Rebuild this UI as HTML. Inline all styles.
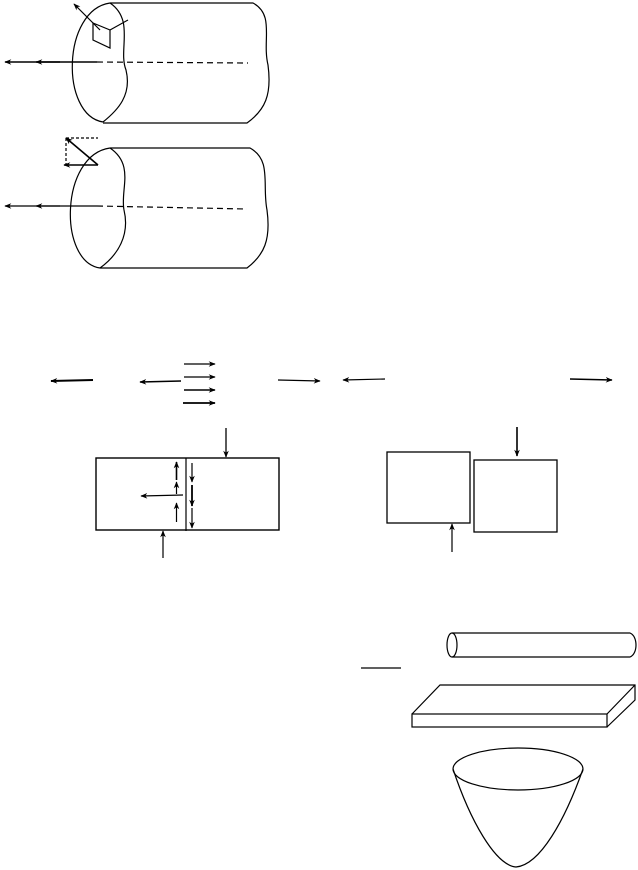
<!DOCTYPE html>
<html><head><meta charset="utf-8"><style>html,body{margin:0;padding:0;background:#fff}svg{display:block}</style></head>
<body>
<svg width="638" height="870" viewBox="0 0 638 870" xmlns="http://www.w3.org/2000/svg" fill="none" stroke="#000" stroke-width="1.2">
<defs>
<marker id="a" viewBox="0 0 10 10" refX="9" refY="5" markerWidth="7" markerHeight="7" orient="auto" markerUnits="userSpaceOnUse"><path d="M0,1 L10,5 L0,9 L3,5 Z" fill="#000" stroke="none"/></marker>
</defs>
<!-- cylinder 1 -->
<path d="M110,3 C62,10 60,115 103,122"/>
<path d="M110,3 C135,20 118,50 126,70 C132,95 118,110 103,122"/>
<path d="M110,3 L253,3 C275,15 262,40 268,65 C272,95 265,110 247,123 L103,123"/>
<path d="M93,23 L110,30 L110,48 L93,40 Z"/>
<line x1="110" y1="30" x2="128" y2="20"/>
<line x1="100" y1="30" x2="74" y2="4" marker-end="url(#a)"/>
<line x1="97" y1="62" x2="5" y2="62" stroke-width="1.5" marker-end="url(#a)"/>
<line x1="60" y1="62" x2="36" y2="62" stroke-width="1.5" marker-end="url(#a)"/>
<line x1="97" y1="62" x2="248" y2="63" stroke-dasharray="6,4"/>
<!-- cylinder 2 -->
<path d="M110,148 C60,155 58,262 100,268"/>
<path d="M110,148 C135,165 120,190 124,210 C130,235 118,255 100,268"/>
<path d="M110,148 L250,148 C272,160 262,185 267,210 C271,240 264,255 247,268 L100,268"/>
<path d="M66,138 L98,138 M66,138 L66,165" stroke-dasharray="3,2"/>
<line x1="98" y1="165" x2="66" y2="138" stroke-width="1.6" marker-end="url(#a)"/>
<line x1="98" y1="165" x2="64" y2="165" stroke-width="1.6" marker-end="url(#a)"/>
<line x1="97" y1="206" x2="5" y2="206" stroke-width="1.3" marker-end="url(#a)"/>
<line x1="60" y1="206" x2="36" y2="206" stroke-width="1.3" marker-end="url(#a)"/>
<line x1="97" y1="206" x2="247" y2="209" stroke-dasharray="6,4"/>
<!-- middle arrows -->
<line x1="93" y1="380" x2="51" y2="381" stroke-width="2" marker-end="url(#a)"/>
<line x1="181" y1="381" x2="140" y2="382" stroke-width="1.6" marker-end="url(#a)"/>
<line x1="184" y1="364" x2="215" y2="364" marker-end="url(#a)"/>
<line x1="184" y1="377" x2="215" y2="377" marker-end="url(#a)"/>
<line x1="184" y1="390" x2="215" y2="390" stroke-width="1.6" marker-end="url(#a)"/>
<line x1="183" y1="403" x2="215" y2="403" stroke-width="1.8" marker-end="url(#a)"/>
<line x1="278" y1="380" x2="320" y2="381" marker-end="url(#a)"/>
<line x1="385" y1="379" x2="343" y2="380" marker-end="url(#a)"/>
<line x1="570" y1="379" x2="612" y2="380" stroke-width="1.6" marker-end="url(#a)"/>
<!-- left rectangle -->
<rect x="96" y="458" width="183" height="72" stroke-width="1.4"/>
<line x1="186" y1="458" x2="186" y2="531"/>
<line x1="226" y1="428" x2="226" y2="457" stroke-width="1.3" marker-end="url(#a)"/>
<line x1="163" y1="558" x2="163" y2="531" marker-end="url(#a)"/>
<line x1="176.5" y1="480" x2="176.5" y2="462" stroke-width="1.6" marker-end="url(#a)"/>
<line x1="176.5" y1="494" x2="176.5" y2="482" marker-end="url(#a)"/>
<line x1="176.5" y1="522" x2="176.5" y2="503" marker-end="url(#a)"/>
<line x1="192" y1="463" x2="192" y2="482" marker-end="url(#a)"/>
<line x1="192" y1="485" x2="192" y2="506" stroke-width="1.8" marker-end="url(#a)"/>
<line x1="192" y1="508" x2="192" y2="528" marker-end="url(#a)"/>
<line x1="183" y1="495" x2="141" y2="496" marker-end="url(#a)"/>
<!-- right boxes -->
<rect x="387" y="452" width="83" height="71" stroke-width="1.3"/>
<rect x="474" y="460" width="83" height="72" stroke-width="1.3"/>
<line x1="517" y1="427" x2="517" y2="456" stroke-width="1.6" marker-end="url(#a)"/>
<line x1="452" y1="552" x2="452" y2="524" marker-end="url(#a)"/>
<!-- bottom right -->
<path d="M452,633 L630,633 C638,636 638,654 630,657 L452,657"/>
<ellipse cx="452" cy="645" rx="5" ry="12"/>
<line x1="361" y1="668" x2="401" y2="668"/>
<rect x="412" y="714" width="195" height="13"/>
<path d="M412,714 L440,685 L635,685 L635,700 L607,727 M607,714 L635,685"/>
<ellipse cx="518" cy="769" rx="65" ry="21"/>
<path d="M453,769 C470,820 495,865 516,867 C540,865 565,820 583,769"/>
</svg>
</body></html>
